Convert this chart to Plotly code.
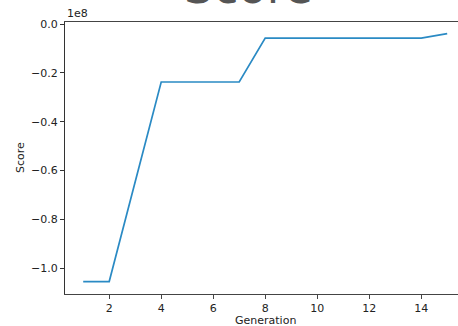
import plotly.graph_objects as go

generations = [1, 2, 3, 4, 5, 6, 7, 8, 9, 10, 11, 12, 13, 14, 15]
scores = [-1.055e8, -1.055e8, -0.646e8, -0.237e8, -0.237e8, -0.237e8, -0.237e8,
          -0.057e8, -0.057e8, -0.057e8, -0.057e8, -0.057e8, -0.057e8, -0.057e8, -0.039e8]
y_tickvals = [0.0, -0.2e8, -0.4e8, -0.6e8, -0.8e8, -1.0e8]
y_ticktext = ["0.0", "\u22120.2", "\u22120.4", "\u22120.6", "\u22120.8", "\u22121.0"]
x_tickvals = [2, 4, 6, 8, 10, 12, 14]

W, H = 458, 326
L, R, T, B = 65, 0, 22, 32
px_per_unit = 26.0
x0 = 0.3
x1 = x0 + (W - L - R) / px_per_unit

font = "DejaVu Sans"
fig = go.Figure()
fig.add_trace(go.Scatter(x=generations, y=scores, mode="lines",
                         line=dict(color="#2a8ac4", width=1.7), showlegend=False))

fig.update_layout(
    width=W, height=H,
    margin=dict(l=L, r=R, t=T, b=B),
    paper_bgcolor="white", plot_bgcolor="white",
    font=dict(family=font, size=11, color="#222"),
    xaxis=dict(range=[x0, x1], tickvals=x_tickvals, showgrid=False, zeroline=False,
               showline=True, linecolor="#444", linewidth=1, mirror=True,
               ticks="outside", ticklen=4, tickcolor="#444",
               tickfont=dict(family=font, size=11, color="#222")),
    yaxis=dict(range=[-1.106e8, 0.009e8], tickvals=y_tickvals, ticktext=y_ticktext,
               showgrid=False, zeroline=False, showline=True, linecolor="#333", linewidth=1,
               ticks="outside", ticklen=4, tickcolor="#333",
               tickfont=dict(family=font, size=11, color="#222")),
    annotations=[
        dict(text="Score", xref="paper", yref="paper", x=(248 - L) / (W - L - R), y=1 + 35 / (H - T - B),
             xanchor="center", yanchor="middle", showarrow=False,
             font=dict(family=font, size=46, color="#555")),
        dict(text="1e8", xref="paper", yref="paper", x=0, y=1, xanchor="left", yanchor="bottom",
             showarrow=False, font=dict(family=font, size=11, color="#222"), yshift=0),
        dict(text="Generation", xref="x", yref="paper", x=8.0, y=0, xanchor="center", yanchor="middle",
             yshift=-26, showarrow=False, font=dict(family=font, size=11, color="#222")),
        dict(text="Score", xref="paper", yref="paper", x=0, y=0.5, xanchor="center", yanchor="middle",
             xshift=-45, textangle=-90, showarrow=False, font=dict(family=font, size=11, color="#222")),
    ],
)

fig.write_html("out.html")
